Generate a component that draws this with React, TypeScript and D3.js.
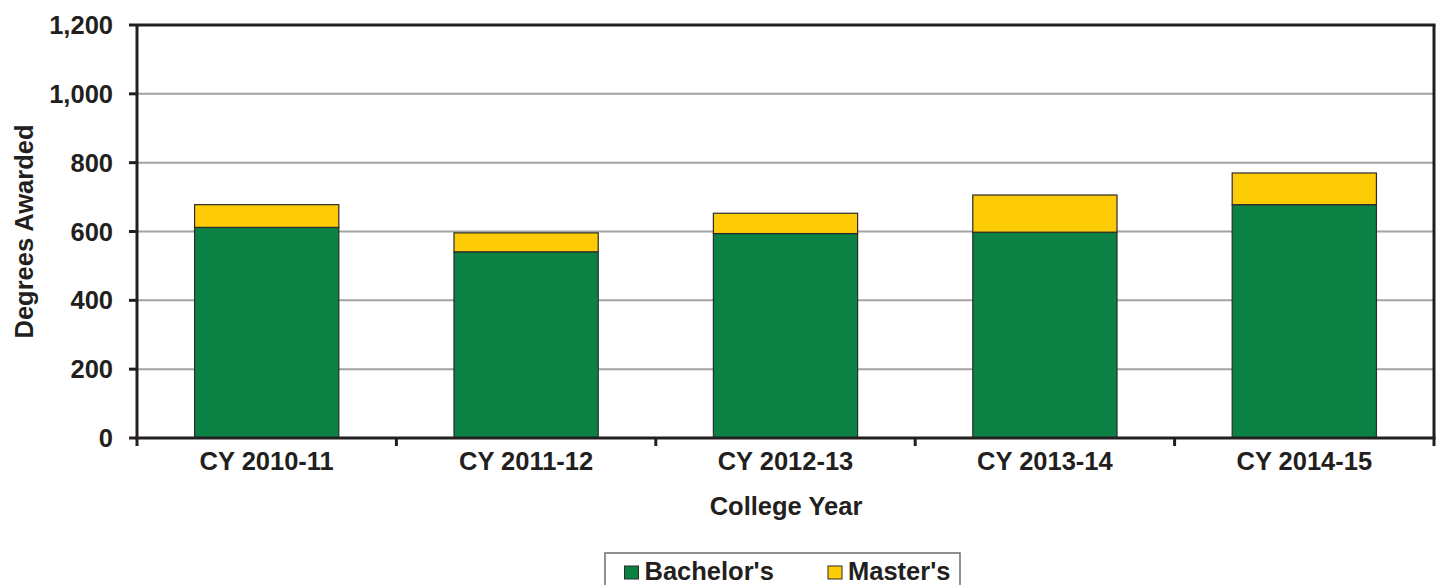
import React from "react";
import * as d3 from "d3";

const categories = ["CY 2010-11", "CY 2011-12", "CY 2012-13", "CY 2013-14", "CY 2014-15"];
const bachelors = [612, 541, 594, 598, 678];
const masters = [66, 55, 59, 108, 92];
const yTicks = [0, 200, 400, 600, 800, 1000, 1200];
const seriesNames = ["Bachelor's", "Master's"];
const seriesColors = ["#0b8243", "#fecc07"];

const W = 1439;
const H = 585;
const M = { left: 137, right: 1434, top: 25, bottom: 438 };
const FONT = "'Liberation Sans', Arial, sans-serif";
const TXT = "#231f20";
const FS = 25.5;

export default function App() {
  const x = d3.scaleBand<string>().domain(categories).range([M.left, M.right]).paddingInner(0.444).paddingOuter(0.222);
  const y = d3.scaleLinear().domain([0, 1200]).range([M.bottom, M.top]);
  const rows = categories.map((c, i) => ({ cat: c, b: bachelors[i], m: masters[i] }));
  const stack = d3.stack<any>().keys(["b", "m"])(rows);
  const step = (M.right - M.left) / categories.length;
  const fmt = d3.format(",");

  return (
    <svg width={W} height={H} style={{ position: "absolute", left: 0, top: 0, background: "#fff" }} fontFamily={FONT}>
      {/* gridlines */}
      {yTicks.filter((t) => t > 0 && t < 1200).map((t) => (
        <line key={"g" + t} x1={M.left} x2={M.right} y1={y(t)} y2={y(t)} stroke="#a3a3a5" strokeWidth={2} />
      ))}
      {/* bars */}
      {stack.map((s, si) =>
        s.map((d, i) => (
          <rect
            key={si + "-" + i}
            x={x(categories[i])}
            y={y(d[1])}
            width={x.bandwidth()}
            height={y(d[0]) - y(d[1])}
            fill={seriesColors[si]}
            stroke="#2d2a2b"
            strokeWidth={1.2}
          />
        ))
      )}
      {/* frame */}
      <line x1={M.left} x2={M.right + 1.5} y1={M.top} y2={M.top} stroke={TXT} strokeWidth={3} />
      <line x1={M.right} x2={M.right} y1={M.top} y2={M.bottom} stroke={TXT} strokeWidth={3} />
      <line x1={M.left} x2={M.left} y1={M.top} y2={M.bottom + 1.5} stroke={TXT} strokeWidth={3} />
      <line x1={M.left - 1.5} x2={M.right + 1.5} y1={M.bottom} y2={M.bottom} stroke={TXT} strokeWidth={3} />
      {/* y ticks */}
      {yTicks.map((t) => (
        <g key={"y" + t}>
          <line x1={M.left - 8} x2={M.left} y1={y(t)} y2={y(t)} stroke={TXT} strokeWidth={3} />
          <text x={113} y={y(t) + 9} textAnchor="end" fontSize={FS} fontWeight="bold" fill={TXT}>
            {fmt(t)}
          </text>
        </g>
      ))}
      {/* x ticks */}
      {d3.range(categories.length + 1).map((i) => (
        <line key={"xt" + i} x1={M.left + i * step} x2={M.left + i * step} y1={M.bottom} y2={M.bottom + 8} stroke={TXT} strokeWidth={3} />
      ))}
      {categories.map((c) => (
        <text key={c} x={(x(c) as number) + x.bandwidth() / 2} y={470} textAnchor="middle" fontSize={FS} fontWeight="bold" fill={TXT}>
          {c}
        </text>
      ))}
      {/* axis titles */}
      <text x={786} y={515} textAnchor="middle" fontSize={FS} fontWeight="bold" fill={TXT}>
        College Year
      </text>
      <text transform={`translate(33,231.5) rotate(-90)`} textAnchor="middle" fontSize={FS} fontWeight="bold" fill={TXT}>
        Degrees Awarded
      </text>
      {/* legend */}
      <rect x={605} y={553} width={355} height={40} fill="#fff" stroke="#6d6d6f" strokeWidth={1.5} />
      {seriesNames.map((n, i) => {
        const lx = i === 0 ? 624.5 : 828;
        return (
          <g key={n}>
            <rect x={lx} y={566} width={14} height={13} fill={seriesColors[i]} stroke="#2d2a2b" strokeWidth={1} />
            <text x={lx + 20} y={579.5} fontSize={FS} fontWeight="bold" fill={TXT}>
              {n}
            </text>
          </g>
        );
      })}
    </svg>
  );
}
